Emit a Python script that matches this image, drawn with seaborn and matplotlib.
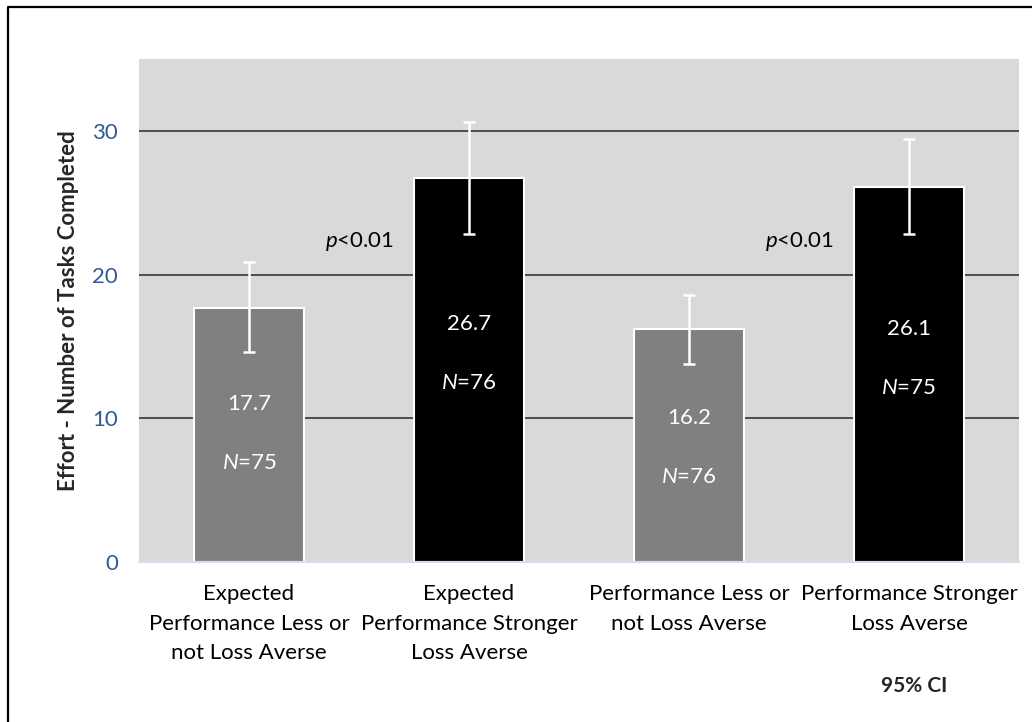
import pandas as pd
import seaborn as sns
import matplotlib.pyplot as plt
from matplotlib.lines import Line2D

# values
groups = [
    "Expected\nPerformance Less or\nnot Loss Averse",
    "Expected\nPerformance Stronger\nLoss Averse",
    "Performance Less or\nnot Loss Averse",
    "Performance Stronger\nLoss Averse",
]
effort = [17.7, 26.7, 16.2, 26.1]
ci_low = [14.6, 22.8, 13.8, 22.8]
ci_high = [20.9, 30.6, 18.6, 29.4]
n_obs = [75, 76, 76, 75]
p_labels = ["<0.01", "<0.01"]

sns.set_theme(style="white")
plt.rcParams["font.family"] = ["Lato", "DejaVu Sans"]
plt.rcParams["mathtext.fontset"] = "custom"
plt.rcParams["mathtext.rm"] = "Lato"
plt.rcParams["mathtext.it"] = "Lato:italic"

df = pd.DataFrame({"group": groups, "effort": effort})
bar_colors = ["#808080", "#000000", "#808080", "#000000"]

fig = plt.figure(figsize=(10.32, 7.22), dpi=100)
ax = fig.add_axes([0.1347, 0.2216, 0.8527, 0.6967])
ax.set_facecolor("#D9D9D9")

sns.barplot(data=df, x="group", y="effort", hue="group", palette=bar_colors,
            legend=False, errorbar=None, width=0.5, edgecolor="white",
            linewidth=1.5, ax=ax, zorder=2)

x = list(range(len(groups)))
yerr = [[m - lo for m, lo in zip(effort, ci_low)],
        [hi - m for m, hi in zip(effort, ci_high)]]
ax.errorbar(x, effort, yerr=yerr, fmt="none", ecolor="white",
            elinewidth=1.8, capsize=4.5, capthick=1.8, zorder=3)

for i, (m, n) in enumerate(zip(effort, n_obs)):
    ty = m * 0.62
    ax.text(i, ty, f"{m:.1f}", color="white", ha="center", va="center",
            fontsize=16, zorder=4)
    ax.text(i, ty - 4.1, f"$N$={n}", color="white", ha="center",
            va="center", fontsize=16, zorder=4)

for k, lab in enumerate(p_labels):
    ax.text(2 * k + 0.5, 22.3, f"$p${lab}", color="black", ha="center",
            va="center", fontsize=16)

ax.set_ylim(0, 35)
ax.set_xlim(-0.5, 3.5)
ax.set_yticks([0, 10, 20, 30])
ax.yaxis.grid(True, color="#262626", linewidth=1.1)
ax.set_axisbelow(True)
for s in ["top", "right", "left"]:
    ax.spines[s].set_visible(False)
ax.spines["bottom"].set_color("#D6DEEE")
ax.spines["bottom"].set_linewidth(1.5)
ax.tick_params(axis="y", length=0, pad=15, labelsize=16, labelcolor="#2F5A96")
ax.tick_params(axis="x", length=0, pad=16, labelsize=16, labelcolor="black")
for t in ax.get_xticklabels():
    t.set_linespacing(1.6)
ax.set_xlabel("")
ax.set_ylabel("Effort - Number of Tasks Completed", fontsize=16,
              fontweight="bold", labelpad=10)

fig.text(914 / 1032, 1 - 686 / 722, "95% CI", ha="center", va="center",
         fontsize=15, fontweight="bold")

# chart frame (only top and left edges are inside the picture)
fx = 8 / 1032
fy = 1 - 7 / 722
fig.add_artist(Line2D([fx, fx, 1.0], [0.0, fy, fy], color="black",
                      linewidth=1.6, transform=fig.transFigure))

fig.savefig("out.png", dpi=100, facecolor="white")
